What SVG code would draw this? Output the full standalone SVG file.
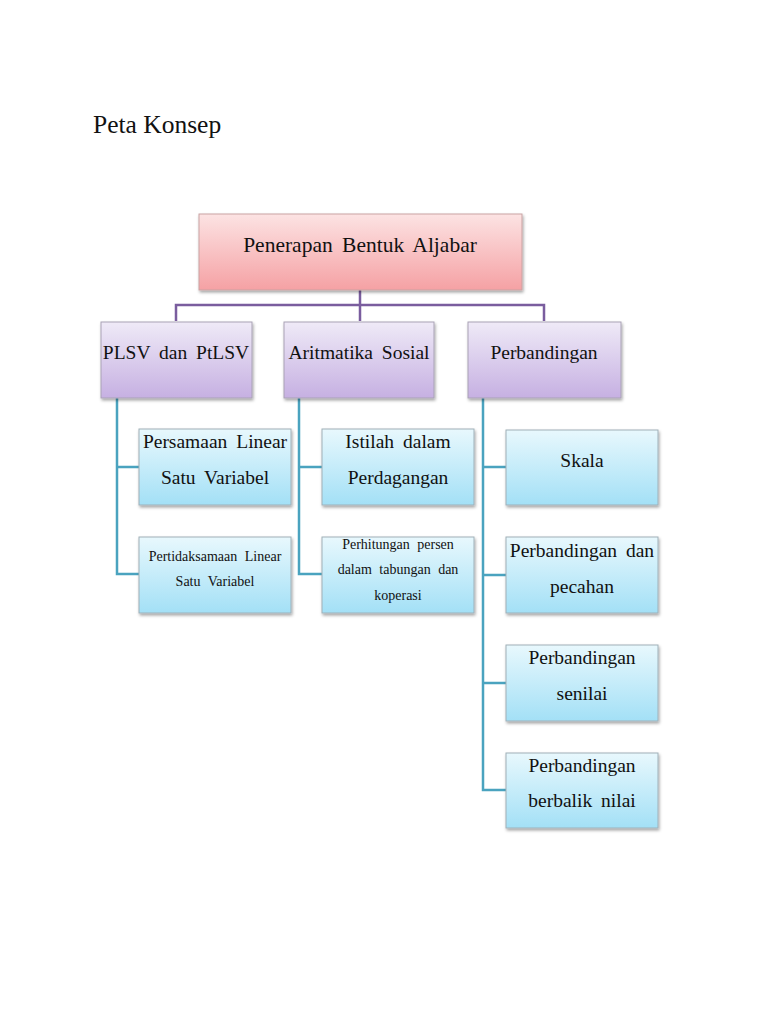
<svg xmlns="http://www.w3.org/2000/svg" width="768" height="1024" viewBox="0 0 768 1024">
<style>
text{font-family:"Liberation Serif","DejaVu Serif",serif;fill:#111;text-anchor:middle;word-spacing:4px}
.l{font-size:19.5px}
.s{font-size:14px}
.root{fill:url(#gRoot);stroke:#c9a3a3;stroke-width:1}
.mid{fill:url(#gMid);stroke:#a9a2b5;stroke-width:1}
.leaf{fill:url(#gLeaf);stroke:#9fb0b8;stroke-width:1}
.pc{stroke:#7a5d9e;stroke-width:2.5;fill:none}
.tc{stroke:#4aa3bf;stroke-width:2.5;fill:none}
</style>
<defs>
<linearGradient id="gRoot" x1="0" y1="0" x2="0" y2="1"><stop offset="0" stop-color="#fce3e3"/><stop offset="1" stop-color="#f5a1a4"/></linearGradient>
<linearGradient id="gMid" x1="0" y1="0" x2="0" y2="1"><stop offset="0" stop-color="#efeaf7"/><stop offset="1" stop-color="#c6b0e2"/></linearGradient>
<linearGradient id="gLeaf" x1="0" y1="0" x2="0" y2="1"><stop offset="0" stop-color="#e8f8fd"/><stop offset="1" stop-color="#a3e0f6"/></linearGradient>
<filter id="sh" x="-10%" y="-10%" width="130%" height="140%"><feDropShadow dx="1" dy="2" stdDeviation="1.5" flood-color="#000" flood-opacity="0.35"/></filter>
</defs>
<rect width="768" height="1024" fill="#fff"/>
<text x="93" y="133" style="font-size:25.5px;text-anchor:start;word-spacing:0">Peta Konsep</text>
<g id="connectors">
<path class="pc" d="M360,290 V305 M176,321 V305 H544 V321 M360,305 V321"/>
<path class="tc" d="M117,398 V574 H139 M117,467 H139"/>
<path class="tc" d="M299,398 V574 H322 M299,467 H322"/>
<path class="tc" d="M483,398 V790 H506 M483,467 H506 M483,575 H506 M483,683 H506"/>
</g>
<g id="n-root"><rect class="root" x="199" y="214" width="323" height="76" filter="url(#sh)"/><text x="360" y="252" style="font-size:21.5px">Penerapan Bentuk Aljabar</text></g>
<g id="n-plsv"><rect class="mid" x="101" y="322" width="151" height="76" filter="url(#sh)"/><text class="l" x="176" y="359">PLSV dan PtLSV</text></g>
<g id="n-aritmatika"><rect class="mid" x="284" y="322" width="150" height="76" filter="url(#sh)"/><text class="l" x="359" y="359">Aritmatika Sosial</text></g>
<g id="n-perbandingan"><rect class="mid" x="468" y="322" width="153" height="76" filter="url(#sh)"/><text class="l" x="544" y="359">Perbandingan</text></g>
<g id="n-persamaan"><rect class="leaf" x="139" y="429" width="152" height="76" filter="url(#sh)"/><text class="l" x="215" y="448">Persamaan Linear</text><text class="l" x="215" y="484">Satu Variabel</text></g>
<g id="n-pertidaksamaan"><rect class="leaf" x="139" y="537" width="152" height="76" filter="url(#sh)"/><text class="s" x="215" y="561">Pertidaksamaan Linear</text><text class="s" x="215" y="586">Satu Variabel</text></g>
<g id="n-istilah"><rect class="leaf" x="322" y="429" width="152" height="76" filter="url(#sh)"/><text class="l" x="398" y="448">Istilah dalam</text><text class="l" x="398" y="484">Perdagangan</text></g>
<g id="n-perhitungan"><rect class="leaf" x="322" y="537" width="152" height="76" filter="url(#sh)"/><text class="s" x="398" y="549">Perhitungan persen</text><text class="s" x="398" y="574">dalam tabungan dan</text><text class="s" x="398" y="600">koperasi</text></g>
<g id="n-skala"><rect class="leaf" x="506" y="430" width="152" height="75" filter="url(#sh)"/><text class="l" x="582" y="467">Skala</text></g>
<g id="n-pecahan"><rect class="leaf" x="506" y="537" width="152" height="76" filter="url(#sh)"/><text class="l" x="582" y="557">Perbandingan dan</text><text class="l" x="582" y="593">pecahan</text></g>
<g id="n-senilai"><rect class="leaf" x="506" y="645" width="152" height="76" filter="url(#sh)"/><text class="l" x="582" y="664">Perbandingan</text><text class="l" x="582" y="700">senilai</text></g>
<g id="n-berbalik"><rect class="leaf" x="506" y="753" width="152" height="75" filter="url(#sh)"/><text class="l" x="582" y="772">Perbandingan</text><text class="l" x="582" y="807">berbalik nilai</text></g>
</svg>
